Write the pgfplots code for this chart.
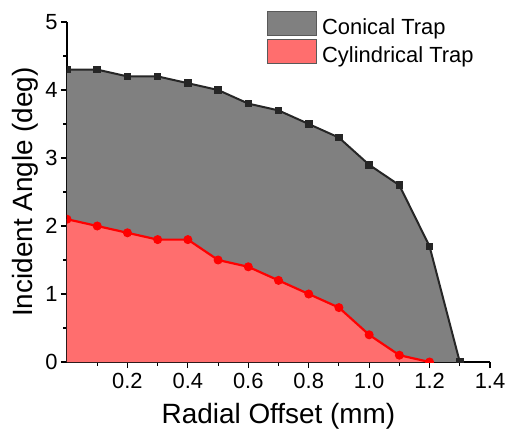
\documentclass[border=0pt]{standalone}
\usepackage{pgfplots}
\pgfplotsset{compat=1.18}
\usepackage{fontspec}
\setmainfont{Liberation Sans}
\definecolor{conefill}{HTML}{808080}
\definecolor{cylfill}{HTML}{FF6E6E}
\begin{document}
\begin{tikzpicture}
\begin{axis}[
  scale only axis, width=423bp, height=340bp,
  xmin=0, xmax=1.4, ymin=0, ymax=5,
  axis x line*=bottom, axis y line*=left,
  axis line style={line width=1.2pt, -},
  xtick={0.2,0.4,0.6,0.8,1.0,1.2,1.4},
  xticklabels={0.2,0.4,0.6,0.8,1.0,1.2,1.4},
  minor xtick={0.1,0.3,0.5,0.7,0.9,1.1,1.3},
  ytick={0,1,2,3,4,5},
  minor ytick={0.5,1.5,2.5,3.5,4.5},
  tick align=outside,
  major tick length=6bp, minor tick length=3.5bp,
  tick style={line width=1.1pt, black},
  /pgf/number format/assume math mode=true,
  ticklabel style={font=\fontsize{22}{26}\selectfont},
  xticklabel style={yshift=-2bp},
  yticklabel style={xshift=0bp},
  xlabel={Radial Offset (mm)}, ylabel={Incident Angle (deg)},
  label style={font=\fontsize{28}{32}\selectfont},
  xlabel style={yshift=-7bp},
  ylabel style={yshift=0bp},
  clip marker paths=true,
  legend style={draw=none, fill=none, at={(0.465,1.04)}, anchor=north west,
    font=\fontsize{22}{26}\selectfont, row sep=1.5bp, cells={anchor=west}},
  legend cell align=left,
]
\addplot[fill=conefill, draw=none,
  legend image code/.code={\draw[fill=conefill, draw=gray!70!black, line width=0.5pt] (0bp,-8bp) rectangle (49bp,16bp); \path (53bp,0);}]
  coordinates {(0,4.3)(0.1,4.3)(0.2,4.2)(0.3,4.2)(0.4,4.1)(0.5,4.0)(0.6,3.8)(0.7,3.7)(0.8,3.5)(0.9,3.3)(1.0,2.9)(1.1,2.6)(1.2,1.7)(1.3,0)} \closedcycle;
\addlegendentry{Conical Trap}
\addplot[fill=cylfill, draw=none,
  legend image code/.code={\draw[fill=cylfill, draw=gray!70!black, line width=0.5pt] (0bp,-8bp) rectangle (49bp,16bp); \path (53bp,0);}]
  coordinates {(0,2.1)(0.1,2.0)(0.2,1.9)(0.3,1.8)(0.4,1.8)(0.5,1.5)(0.6,1.4)(0.7,1.2)(0.8,1.0)(0.9,0.8)(1.0,0.4)(1.1,0.1)(1.2,0)} \closedcycle;
\addlegendentry{Cylindrical Trap}
\addplot[color=black!85, line width=2pt, mark=square*, mark size=3.3pt, mark options={line width=1pt}, forget plot]
  coordinates {(0,4.3)(0.1,4.3)(0.2,4.2)(0.3,4.2)(0.4,4.1)(0.5,4.0)(0.6,3.8)(0.7,3.7)(0.8,3.5)(0.9,3.3)(1.0,2.9)(1.1,2.6)(1.2,1.7)(1.3,0)};
\addplot[color=red, line width=2.2pt, mark=*, mark size=4pt, mark options={line width=1pt}, forget plot]
  coordinates {(0,2.1)(0.1,2.0)(0.2,1.9)(0.3,1.8)(0.4,1.8)(0.5,1.5)(0.6,1.4)(0.7,1.2)(0.8,1.0)(0.9,0.8)(1.0,0.4)(1.1,0.1)(1.2,0)};
\end{axis}
\pgfresetboundingbox
\path ([shift={(-67bp,-73bp)}]current axis.south west) rectangle ([shift={(17bp,22bp)}]current axis.north east);
\end{tikzpicture}
\end{document}
